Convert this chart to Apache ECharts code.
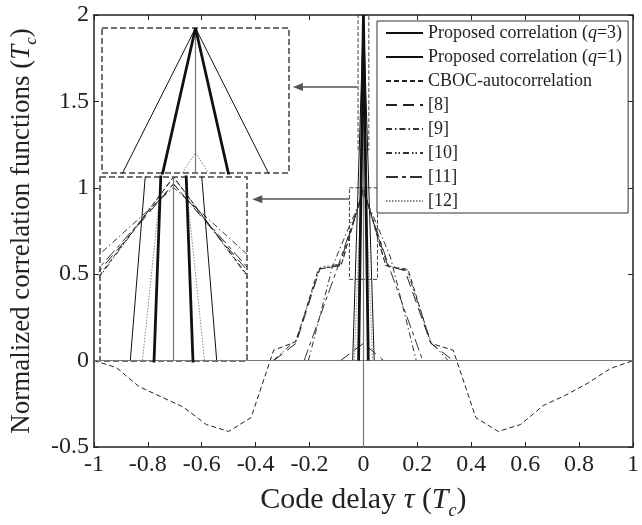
<!DOCTYPE html>
<html>
<head>
<meta charset="utf-8">
<script src="https://cdn.jsdelivr.net/npm/echarts@6/dist/echarts.min.js"></script>
<style>
html,body{margin:0;padding:0;background:#fff;}
#chart{width:642px;height:525px;}
</style>
</head>
<body>
<div id="chart"></div>
<script>
var FONT = 'Liberation Serif';

// legend names
var names = ['Proposed correlation (q=3)', 'Proposed correlation (q=1)', 'CBOC-autocorrelation',
	'[8]', '[9]', '[10]', '[11]', '[12]'];

// axis ticks
var xTicks = { min: -1, max: 1, step: 0.2 };
var yTicks = { min: -0.5, max: 2, step: 0.5 };

// curves: [tau, value]
var q3Data = [[-0.018, 0], [0, 2], [0.018, 0]];
var q1Data = [[-0.04, 0], [0, 2], [0.04, 0]];
var cbocTau = [-1, -0.917, -0.833, -0.75, -0.667, -0.583, -0.5, -0.417, -0.333, -0.25, -0.167, -0.083, 0,
	0.083, 0.167, 0.25, 0.333, 0.417, 0.5, 0.583, 0.667, 0.75, 0.833, 0.917, 1];
var cbocVal = [0, -0.04, -0.15, -0.21, -0.27, -0.37, -0.41, -0.33, 0.06, 0.11, 0.53, 0.55, 1.0,
	0.55, 0.52, 0.1, 0.06, -0.33, -0.41, -0.37, -0.26, -0.2, -0.13, -0.045, 0];
var ref8Data = [[-0.333, 0], [-0.25, 0.1], [-0.162, 0.53], [-0.09, 0.55], [0, 0.98], [0.09, 0.55], [0.154, 0.52], [0.25, 0.1], [0.333, 0]];
var ref8Small = [[-0.085, 0], [0, 0.1], [0.075, 0]];
var ref9Data = [[-0.204, 0], [-0.114, 0.55], [0, 0.97], [0.1, 0.6], [0.196, 0]];
var ref10Data = [[-0.335, 0], [-0.25, 0.12], [-0.16, 0.54], [-0.08, 0.56], [0, 1.0], [0.082, 0.55], [0.16, 0.53], [0.25, 0.11], [0.314, 0]];
var ref11Data = [[-0.22, 0], [-0.1, 0.52], [0, 0.98], [0.1, 0.52], [0.22, 0]];
var ref12Data = [[-0.034, 0], [0, 1.33], [0.034, 0]];

// inset windows
var upperWin = { x: [-0.02, 0.02], y: [1.22, 2.0] };
var lowerWin = { x: [-0.052, 0.052], y: [0.47, 1.0] };

function zip(a, b) {
	var out = [];
	for (var i = 0; i < a.length; i++) out.push([a[i], b[i]]);
	return out;
}

var styles = {};
styles[names[0]] = { color: '#111', width: 2.8, type: 'solid' };
styles[names[1]] = { color: '#111', width: 1, type: 'solid' };
styles[names[2]] = { color: '#222', width: 1, type: [5, 3] };
styles[names[3]] = { color: '#222', width: 1, type: [11, 6] };
styles[names[4]] = { color: '#333', width: 1, type: [6, 3, 1.5, 3] };
styles[names[5]] = { color: '#333', width: 1, type: [6, 3, 1.5, 2, 1.5, 3] };
styles[names[6]] = { color: '#333', width: 1, type: [12, 4, 4, 4] };
styles[names[7]] = { color: '#888', width: 1, type: [1.5, 1.5] };

function line(name, data, ax, z) {
	return {
		name: name, type: 'line', data: data,
		xAxisIndex: ax, yAxisIndex: ax,
		symbol: 'none', silent: true, z: z || 3,
		color: styles[name].color,
		itemStyle: { color: styles[name].color },
		lineStyle: styles[name]
	};
}

function seriesFor(ax) {
	var list = [
		line(names[7], ref12Data, ax),
		line(names[2], zip(cbocTau, cbocVal), ax),
		line(names[3], ref8Data, ax),
		line(names[3], ref8Small, ax),
		line(names[4], ref9Data, ax),
		line(names[5], ref10Data, ax),
		line(names[6], ref11Data, ax),
		line(names[1], q1Data, ax),
		line(names[0], q3Data, ax, 5)
	];
	return list;
}

var series = [];
// main plot, q=3 first so legend order is correct
var main = seriesFor(0);
main.sort(function (a, b) { return names.indexOf(a.name) - names.indexOf(b.name); });
// vertical and horizontal reference lines + zoom boxes and arrows on main
main[1].markLine = {
	silent: true, symbol: 'none', animation: false,
	label: { show: false },
	lineStyle: { color: '#777', width: 1.2, type: 'solid' },
	data: [{ xAxis: 0 }, { yAxis: 0 }]
};
main[2].markArea = {
	silent: true,
	itemStyle: { color: 'rgba(0,0,0,0)', borderColor: '#444', borderWidth: 1, borderType: 'dashed' },
	data: [
		[{ coord: [upperWin.x[0], upperWin.y[1]] }, { coord: [upperWin.x[1], upperWin.y[0]] }],
		[{ coord: [lowerWin.x[0], lowerWin.y[1]] }, { coord: [lowerWin.x[1], lowerWin.y[0]] }]
	]
};
main[3].markLine = {
	silent: true, symbol: ['none', 'triangle'], symbolSize: [8, 10], animation: false,
	label: { show: false },
	lineStyle: { color: '#555', width: 1.5, type: 'solid' },
	data: [
		[{ coord: [-0.022, 1.583] }, { coord: [-0.243, 1.583] }],
		[{ coord: [-0.052, 0.934] }, { coord: [-0.394, 0.934] }]
	]
};
series = series.concat(main);

[upperWin, lowerWin].forEach(function (win, k) {
	var ax = k + 2;
	var s = seriesFor(ax);
	s[0].markArea = {
		silent: true,
		itemStyle: { color: 'rgba(0,0,0,0)', borderColor: '#444', borderWidth: 1.5, borderType: 'dashed' },
		data: [[{ coord: [win.x[0], win.y[1]] }, { coord: [win.x[1], win.y[0]] }]]
	};
	s[0].markLine = {
		silent: true, symbol: 'none', animation: false,
		label: { show: false },
		lineStyle: { color: '#777', width: 1.2, type: 'solid' },
		data: [{ xAxis: 0 }]
	};
	series = series.concat(s);
});

var tickStyle = { show: true, inside: true, length: 5, lineStyle: { color: '#222', width: 1 } };
var axLine = { show: true, onZero: false, lineStyle: { color: '#222', width: 1.5 } };
var nameRich = {
	i: { fontFamily: FONT, fontStyle: 'italic', fontSize: 30, lineHeight: 30, verticalAlign: 'top', color: '#222' },
	s: { fontFamily: FONT, fontStyle: 'italic', fontSize: 18, lineHeight: 18, padding: [17, 0, 0, 0], verticalAlign: 'top', color: '#222' },
	n: { fontFamily: FONT, fontSize: 30, lineHeight: 30, verticalAlign: 'top', color: '#222' }
};
var yNameRich = {
	i: { fontFamily: FONT, fontStyle: 'italic', fontSize: 27, lineHeight: 27, verticalAlign: 'top', color: '#222' },
	s: { fontFamily: FONT, fontStyle: 'italic', fontSize: 17, lineHeight: 17, padding: [15, 0, 0, 0], verticalAlign: 'top', color: '#222' },
	n: { fontFamily: FONT, fontSize: 27, lineHeight: 27, verticalAlign: 'top', color: '#222' }
};

function hiddenAxis(grid, win) {
	return { type: 'value', gridIndex: grid, min: win[0], max: win[1], show: false };
}

var option = {
	backgroundColor: '#fff',
	animation: false,
	grid: [
		{ left: 78, top: 15, right: 5, bottom: 70 },
		{ left: 102, top: 28, width: 187, height: 145 },
		{ left: 100, top: 177, width: 147, height: 184 }
	],
	xAxis: [
		{
			type: 'value', gridIndex: 0, min: xTicks.min, max: xTicks.max, interval: xTicks.step,
			axisLine: axLine, axisTick: tickStyle, splitLine: { show: false },
			axisLabel: { fontFamily: FONT, fontSize: 24, color: '#222', margin: 6 },
			name: '{n|Code delay }{i|τ}{n| (}{i|T}{s|c}{n|)}',
			nameLocation: 'middle', nameGap: 38,
			nameTextStyle: { rich: nameRich }
		},
		{
			type: 'value', gridIndex: 0, position: 'top', min: xTicks.min, max: xTicks.max, interval: xTicks.step,
			axisLine: axLine, axisTick: tickStyle, axisLabel: { show: false }, splitLine: { show: false }
		},
		hiddenAxis(1, upperWin.x),
		hiddenAxis(2, lowerWin.x)
	],
	yAxis: [
		{
			type: 'value', gridIndex: 0, min: yTicks.min, max: yTicks.max, interval: yTicks.step,
			axisLine: axLine, axisTick: tickStyle, splitLine: { show: false },
			axisLabel: { fontFamily: FONT, fontSize: 24, color: '#222', margin: 5 },
			name: '{n|Normalized correlation functions (}{i|T}{s|c}{n|)}',
			nameLocation: 'middle', nameRotate: 90, nameGap: 36,
			nameTextStyle: { rich: yNameRich }
		},
		{
			type: 'value', gridIndex: 0, position: 'right', min: yTicks.min, max: yTicks.max, interval: yTicks.step,
			axisLine: axLine, axisTick: tickStyle, axisLabel: { show: false }, splitLine: { show: false }
		},
		hiddenAxis(1, upperWin.y),
		hiddenAxis(2, lowerWin.y)
	],
	legend: {
		data: names,
		orient: 'vertical',
		left: 377, top: 21,
		padding: [3, 6, 3, 8],
		backgroundColor: '#fff',
		borderColor: '#333', borderWidth: 1, borderRadius: 0,
		itemWidth: 37, itemHeight: 14, itemGap: 6,
		selectedMode: false,
		itemStyle: { opacity: 0, borderWidth: 0 },
		formatter: function (name) { return name.replace('q=', '{i|q}='); },
		textStyle: {
			fontFamily: FONT, fontSize: 18, color: '#222',
			rich: { i: { fontFamily: FONT, fontSize: 18, fontStyle: 'italic', color: '#222' } }
		}
	},
	series: series
};

var chart = echarts.init(document.getElementById('chart'));
chart.setOption(option);
</script>
</body>
</html>
